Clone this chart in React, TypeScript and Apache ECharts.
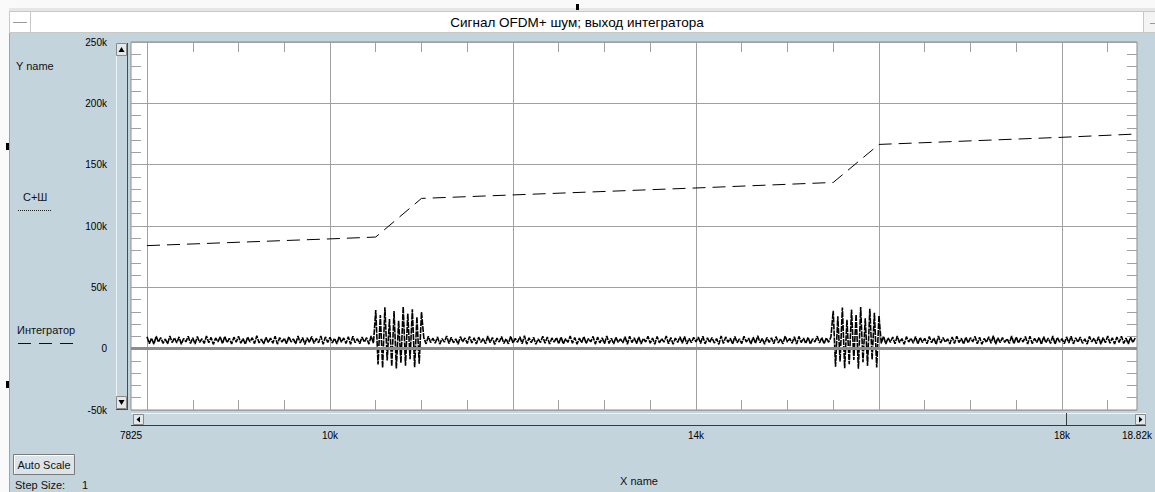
import React, { useEffect, useRef } from 'react';
import * as echarts from 'echarts';

const titleText = 'Сигнал OFDM+ шум; выход интегратора';
const xAxisName = 'X name';
const yAxisName = 'Y name';
const signalName = 'С+Ш';
const integratorName = 'Интегратор';

const xMin = 7825;
const xMax = 18820;
const xMajorTicks = [8000, 10000, 12000, 14000, 16000, 18000];
const xMinorTicks = [8500, 9000, 9500, 10500, 11000, 11500, 12500, 13000, 13500, 14500, 15000, 15500, 16500, 17000, 17500, 18500];
const xLabelValues = [7825, 10000, 14000, 18000, 18820];
const xLabelTexts = ['7825', '10k', '14k', '18k', '18.82k'];

// y values in thousands
const yMin = -50;
const yMax = 250;
const yStep = 50;

const integratorX = [8000, 10000, 10500, 11000, 14000, 15500, 16000, 18000, 18820];
const integratorY = [84, 89.5, 91, 122.5, 131, 135.5, 166.5, 172.3, 175];

// signal samples every 25 units starting at 8000 (values in thousands)
const signalStart = 8000;
const signalStep = 25;
const signalValues = [
  // 8000 .. 10475
  9.8, 4.1, 8.6, 3.7, 10.2, 5.3, 9.1, 4.4, 7.9, 3.9, 10.4, 5.0, 8.8, 4.6, 9.6, 3.6, 8.3, 5.5, 10.1, 4.2,
  8.9, 3.8, 9.9, 5.1, 8.1, 4.3, 10.3, 4.8, 9.2, 3.5, 8.7, 5.6, 9.7, 4.0, 10.0, 4.9, 8.4, 3.9, 9.4, 5.2,
  10.2, 4.5, 8.2, 3.6, 9.5, 5.4, 8.9, 4.1, 10.5, 4.7, 7.8, 3.8, 9.3, 5.0, 8.6, 4.4, 10.1, 3.7, 9.0, 5.3,
  8.5, 4.0, 9.8, 5.5, 8.0, 3.9, 10.3, 4.6, 9.1, 3.5, 8.8, 5.1, 9.9, 4.3, 8.3, 4.8, 10.4, 3.6, 9.6, 5.0,
  9.3, 4.7, 8.4, 3.8, 10.0, 5.2, 8.7, 4.2, 9.7, 3.6, 10.2, 4.9, 8.1, 4.0, 9.5, 5.4, 8.9, 3.7, 10.3, 4.5,
  // burst 10500 .. 11000
  31.5, -12.8, 27.4, -15.6, 33.8, -9.7, 24.1, -14.3, 30.6, -16.2, 22.8, -11.5, 34.2, -13.9, 28.7, -8.6, 32.1, -15.1, 25.9, -12.2, 29.8,
  // 11025 .. 15475
  9.0, 3.9, 10.1, 5.0, 8.5, 4.4, 9.6, 3.7, 8.2, 5.3, 10.4, 4.1, 9.2, 4.8, 8.0, 3.6, 9.8, 5.5, 8.7, 4.3,
  10.0, 4.6, 8.8, 3.8, 9.4, 5.1, 8.3, 4.0, 10.3, 4.9, 9.1, 3.5, 8.6, 5.4, 9.9, 4.2, 8.1, 3.9, 10.2, 4.7,
  8.4, 5.2, 9.7, 4.1, 10.5, 3.7, 8.9, 4.8, 9.3, 3.6, 8.0, 5.0, 10.1, 4.4, 9.5, 3.8, 8.7, 5.3, 9.0, 4.0,
  9.6, 3.9, 8.2, 5.1, 10.3, 4.5, 9.1, 3.6, 8.6, 4.9, 9.9, 4.2, 8.3, 5.5, 10.0, 3.7, 9.4, 4.6, 8.8, 4.0,
  10.4, 4.3, 8.5, 3.8, 9.2, 5.2, 8.0, 4.7, 9.8, 3.5, 10.2, 5.0, 8.9, 4.1, 9.5, 3.9, 8.4, 5.4, 10.1, 4.4,
  8.7, 3.6, 9.9, 4.8, 8.1, 5.3, 10.3, 4.0, 9.0, 3.7, 8.6, 5.1, 9.7, 4.5, 10.0, 3.8, 8.3, 4.9, 9.3, 5.5,
  9.5, 4.2, 10.2, 3.9, 8.8, 5.0, 9.1, 4.6, 8.2, 3.5, 10.4, 4.3, 9.6, 5.2, 8.5, 3.7, 9.9, 4.8, 8.0, 4.1,
  10.1, 5.4, 8.6, 3.8, 9.4, 4.4, 10.5, 4.9, 8.3, 3.6, 9.2, 5.1, 8.9, 4.0, 9.8, 4.7, 8.1, 3.9, 10.3, 5.3,
  8.4, 4.5, 9.7, 3.7, 10.0, 5.0, 8.7, 4.2, 9.3, 3.8, 8.0, 5.5, 10.2, 4.6, 9.0, 3.9, 8.8, 5.2, 9.6,
  // burst 15500 .. 16000
  30.9, -14.7, 26.3, -10.4, 33.5, -15.9, 23.6, -12.6, 31.8, -9.2, 27.9, -16.4, 34.0, -11.1, 24.7, -14.0, 32.6, -8.9, 29.3, -15.3, 26.8,
  // 16025 .. 18800
  4.3, 10.1, 3.8, 8.9, 5.1, 9.5, 4.0, 10.3, 4.8, 8.2, 3.6, 9.8, 5.4, 8.6, 4.4, 10.0, 3.7, 9.2, 5.0, 8.4,
  4.1, 9.9, 4.9, 8.7, 3.5, 10.4, 4.6, 9.1, 5.3, 8.0, 3.9, 9.6, 4.2, 10.2, 5.0, 8.5, 3.8, 9.4, 4.7, 8.9,
  5.5, 10.0, 4.0, 9.3, 3.6, 8.3, 5.2, 9.7, 4.4, 10.5, 3.7, 8.8, 4.9, 9.0, 5.1, 8.1, 4.3, 10.3, 3.9, 9.5,
  4.6, 8.6, 5.4, 9.9, 3.8, 10.1, 4.1, 8.4, 5.0, 9.2, 3.5, 9.8, 4.8, 8.7, 4.2, 10.4, 3.6, 9.1, 5.3, 8.2,
  4.0, 9.6, 4.7, 10.2, 3.9, 8.9, 5.2, 9.4, 4.4, 8.0, 3.7, 10.0, 5.5, 8.5, 4.1, 9.7, 3.6, 9.0, 4.9, 10.3,
  4.5, 8.8, 3.8, 9.5, 5.1, 10.1, 4.2, 8.6, 3.9, 9.3, 5.0, 8.7,
];

const PANEL = '#c4d4dd';
const GRIDC = '#a0a0a0';
const FONT = '"Liberation Sans", Arial, sans-serif';

function txt(text: string, x: number, y: number, size: number, align = 'left', color = '#111') {
  return {
    type: 'text',
    x,
    y,
    silent: true,
    style: { text, fill: color, font: `${size}px ${FONT}`, align, verticalAlign: 'middle' },
  };
}
function ln(x1: number, y1: number, x2: number, y2: number, stroke: string, lineWidth = 1, lineDash?: number[]) {
  return {
    type: 'line',
    silent: true,
    shape: { x1, y1, x2, y2 },
    style: { stroke, lineWidth, lineDash },
  };
}
function rc(x: number, y: number, width: number, height: number, fill: string, stroke?: string) {
  return { type: 'rect', silent: true, shape: { x, y, width, height }, style: { fill, stroke, lineWidth: 1 } };
}
function tri(points: number[][]) {
  return { type: 'polygon', silent: true, shape: { points }, style: { fill: '#000' } };
}

export default function App() {
  const ref = useRef<HTMLDivElement>(null);
  useEffect(() => {
    document.body.style.margin = '0';
    const chart = echarts.init(ref.current!, null, { renderer: 'svg' });

    const signalData = signalValues.map((v, i) => [signalStart + i * signalStep, v]);
    const integratorData = integratorX.map((x, i) => [x, integratorY[i]]);

    const minorTickAxis = (position: 'top' | 'bottom') => ({
      type: 'value',
      position,
      min: xMin,
      max: xMax,
      axisLine: { show: false, onZero: false },
      axisTick: { show: true, inside: true, length: 10, customValues: xMinorTicks, lineStyle: { color: GRIDC } },
      axisLabel: { show: false },
      splitLine: { show: false },
    });

    const graphicEls: any[] = [
      rc(0, 0, 1155, 9, '#f9f9f9'),
      rc(0, 0, 9, 492, '#fafafa'),
      rc(9, 8, 1146, 25, '#e4e6e7'),
      rc(9.5, 11.5, 1134, 21, '#ffffff', '#c8c8c8'),
      ln(30.5, 12, 30.5, 32, '#c8c8c8'),
      ln(13, 22.5, 27, 22.5, '#9a9a9a'),
      rc(1143.5, 11.5, 12, 21, '#f4f4f4', '#c8c8c8'),
      ln(1150, 23.5, 1155, 23.5, '#9a9a9a'),
      txt(titleText, 577, 22, 13.5, 'center', '#000'),
      ln(9.5, 33, 9.5, 492, '#9aa4aa'),
      rc(6, 143, 3, 7, '#000'),
      rc(6, 381, 3, 7, '#000'),
      rc(576, 4, 3, 6, '#000'),
      // left legend panel
      txt(yAxisName, 16, 66, 11),
      txt(signalName, 23, 197, 11),
      ln(18, 210.5, 52, 210.5, '#222', 1, [1, 1]),
      txt(integratorName, 17, 330, 11),
      ln(18, 343.5, 76, 343.5, '#111', 1, [13, 8]),
      // vertical scrollbar
      rc(116, 43, 12, 367, PANEL),
      ln(116.5, 43, 116.5, 410, '#eef3f5'),
      ln(127.5, 43, 127.5, 410, '#4a4a4a'),
      ln(116, 409.5, 128, 409.5, '#4a4a4a'),
      rc(116.5, 43.5, 10, 12, '#e2e9ed', '#8a8a8a'),
      tri([[118.5, 52], [124.5, 52], [121.5, 47]]),
      rc(116.5, 396.5, 10, 12, '#e2e9ed', '#8a8a8a'),
      tri([[118.5, 400], [124.5, 400], [121.5, 405]]),
      // horizontal scrollbar
      rc(131, 413, 1016, 13, PANEL),
      ln(131, 413.5, 1146, 413.5, '#eef3f5'),
      rc(144, 414, 922, 11, '#cad8e0'),
      ln(131, 425.5, 1146, 425.5, '#3a3a3a'),
      ln(1066.5, 413, 1066.5, 426, '#3a3a3a'),
      rc(133.5, 414.5, 10, 10, '#e2e9ed', '#8a8a8a'),
      tri([[140, 416.5], [140, 422.5], [136.5, 419.5]]),
      rc(1135.5, 414.5, 10, 10, '#e2e9ed', '#8a8a8a'),
      tri([[1139, 416.5], [1139, 422.5], [1142.5, 419.5]]),
      // bottom controls
      rc(13.5, 454.5, 61, 20, '#dbe4e9', '#7a7a7a'),
      ln(14, 455.5, 74, 455.5, '#ffffff'),
      ln(14.5, 455, 14.5, 474, '#ffffff'),
      txt('Auto Scale', 44, 465, 11, 'center'),
      txt('Step Size:', 15, 485, 11),
      txt('1', 82, 485, 11),
      txt(xAxisName, 620, 481, 11),
    ];

    chart.setOption({
      animation: false,
      backgroundColor: PANEL,
      textStyle: { fontFamily: FONT },
      grid: {
        left: 131,
        top: 42,
        width: 1016,
        height: 368,
        show: true,
        backgroundColor: '#ffffff',
        borderColor: '#8c8c8c',
        borderWidth: 1,
      },
      xAxis: [
        {
          type: 'value',
          position: 'bottom',
          min: xMin,
          max: xMax,
          axisLine: { show: false, onZero: false },
          axisTick: { show: true, inside: true, length: 12, customValues: xMajorTicks, lineStyle: { color: GRIDC } },
          splitLine: { show: true, lineStyle: { color: GRIDC, width: 1 } },
          axisLabel: {
            customValues: xLabelValues,
            formatter: (v: number) => {
              const i = xLabelValues.indexOf(v);
              return i >= 0 ? xLabelTexts[i] : '';
            },
            margin: 20,
            fontSize: 10,
            color: '#000',
            fontFamily: FONT,
          },
        },
        minorTickAxis('bottom'),
        minorTickAxis('top'),
      ],
      yAxis: [
        {
          type: 'value',
          position: 'left',
          min: yMin,
          max: yMax,
          interval: yStep,
          axisLine: { show: false, onZero: false },
          axisTick: { show: false, inside: true },
          minorTick: { show: true, splitNumber: 5, length: 10, lineStyle: { color: GRIDC } },
          splitLine: { show: true, lineStyle: { color: GRIDC, width: 1 } },
          axisLabel: {
            formatter: (v: number) => (v === 0 ? '0' : `${v}k`),
            margin: 24,
            fontSize: 10,
            color: '#000',
            fontFamily: FONT,
          },
        },
        {
          type: 'value',
          position: 'right',
          min: yMin,
          max: yMax,
          interval: yStep,
          axisLine: { show: false, onZero: false },
          axisTick: { show: false, inside: true },
          minorTick: { show: true, splitNumber: 5, length: 10, lineStyle: { color: GRIDC } },
          splitLine: { show: false },
          axisLabel: { show: false },
        },
      ],
      graphic: { elements: graphicEls },
      series: [
        {
          name: signalName,
          type: 'line',
          xAxisIndex: 0,
          yAxisIndex: 0,
          data: signalData,
          symbol: 'none',
          lineStyle: { color: '#000', width: 1.6, type: [6, 1] },
          markLine: {
            silent: true,
            symbol: ['none', 'none'],
            label: { show: false },
            lineStyle: { color: '#8c8c8c', width: 3, type: 'solid' },
            data: [{ yAxis: 0 }],
          },
          z: 3,
        },
        {
          name: integratorName,
          type: 'line',
          xAxisIndex: 0,
          yAxisIndex: 0,
          data: integratorData,
          symbol: 'none',
          lineStyle: { color: '#000', width: 1, type: [13, 7] },
          z: 4,
        },
      ],
    });
    return () => chart.dispose();
  }, []);
  return <div ref={ref} style={{ width: 1155, height: 492 }} />;
}
